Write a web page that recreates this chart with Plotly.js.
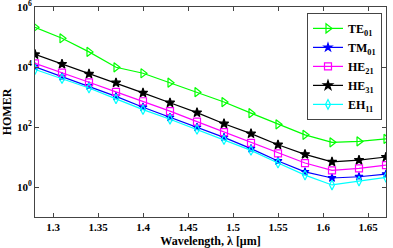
<!DOCTYPE html>
<html>
<head>
<meta charset="utf-8">
<script src="https://cdn.plot.ly/plotly-3.0.1.min.js"></script>
<style>html,body{margin:0;padding:0;background:#fff;}#chart{width:393px;height:248px;}</style>
</head>
<body>
<div id="chart"></div>
<script>
var wavelength = [1.28,1.31,1.34,1.37,1.40,1.43,1.46,1.49,1.52,1.55,1.58,1.61,1.64,1.67];
var TE01 = [2.1e5,9.1e4,3.2e4,9.8e3,6.2e3,3.0e3,1.45e3,680,290,123,55,31,33,40];
var TM01 = [1.02e4,4.8e3,2.35e3,1.05e3,457,209,98,45,19,7.4,3.2,2.0,2.2,2.7];
var HE21 = [1.32e4,6.5e3,3.1e3,1.48e3,724,339,151,68,29.5,13.2,6.3,3.6,4.2,5.4];
var HE31 = [2.63e4,1.26e4,5.9e3,3.0e3,1.38e3,646,302,129,60,25.7,12.3,6.9,7.9,10];
var EH11 = [8.3e3,4.1e3,2.0e3,870,380,182,83,38,16.6,6.3,2.5,1.17,1.58,2.1];
var seriesNames = ['TE<sub>01</sub>','TM<sub>01</sub>','HE<sub>21</sub>','HE<sub>31</sub>','EH<sub>11</sub>'];
var xTickVals = [1.3,1.35,1.4,1.45,1.5,1.55,1.6,1.65];
var xTickText = ['1.3','1.35','1.4','1.45','1.5','1.55','1.6','1.65'];
var yTickVals = [1,100,1e4,1e6];
var yTickText = ['10<sup>0</sup>','10<sup>2</sup>','10<sup>4</sup>','10<sup>6</sup>'];

var styles = [
  {color:'#00ff00', symbol:'triangle-right-open', size:8},
  {color:'#0000ff', symbol:'star', size:6},
  {color:'#ff00ff', symbol:'square-open', size:7},
  {color:'#000000', symbol:'star', size:7},
  {color:'#00ffff', symbol:'diamond-tall-open', size:7}
];
var data = [TE01, TM01, HE21, HE31, EH11].map(function(ys, i){
  var s = styles[i];
  return {
    x: wavelength, y: ys, name: seriesNames[i], type:'scatter', mode:'lines+markers',
    line:{color:s.color, width:1.2},
    marker:{symbol:s.symbol, size:s.size, color:s.color, line:{color:s.color, width:1.2}}
  };
});
var fam = '"Liberation Serif", "Times New Roman", serif';
var layout = {
  width:393, height:248,
  margin:{l:35, r:7, t:7, b:31},
  paper_bgcolor:'#fff', plot_bgcolor:'#fff',
  font:{family:fam, size:11, color:'#000', weight:'bold'},
  showlegend:true,
  legend:{x:0.9886, y:0.972, xanchor:'right', yanchor:'top', bgcolor:'#fff', bordercolor:'#444', borderwidth:1,
    font:{family:fam, size:12, color:'#000', weight:'bold'}, tracegroupgap:0, itemwidth:30},
  xaxis:{range:[1.28,1.67], tickvals:xTickVals, ticktext:xTickText, ticks:'inside', ticklen:4,
    tickcolor:'#444', showline:true, linecolor:'#444', linewidth:1, mirror:'ticks', showgrid:false, zeroline:false,
    tickfont:{family:fam, size:11, color:'#000', weight:'bold'},
    title:{text:'Wavelength, λ [μm]', standoff:4, font:{family:fam, size:12, color:'#000', weight:'bold'}}},
  yaxis:{type:'log', range:[-1,6.0015], tickvals:yTickVals, ticktext:yTickText, ticks:'inside', ticklen:4,
    ticklabeloverflow:'allow',
    tickcolor:'#444', showline:true, linecolor:'#444', linewidth:1, mirror:'ticks', showgrid:false, zeroline:false,
    tickfont:{family:fam, size:11, color:'#000', weight:'bold'},
    title:{text:'HOMER', standoff:4, font:{family:fam, size:12, color:'#000', weight:'bold'}}}
};
Plotly.newPlot('chart', data, layout, {displayModeBar:false, staticPlot:true});
</script>
</body>
</html>
